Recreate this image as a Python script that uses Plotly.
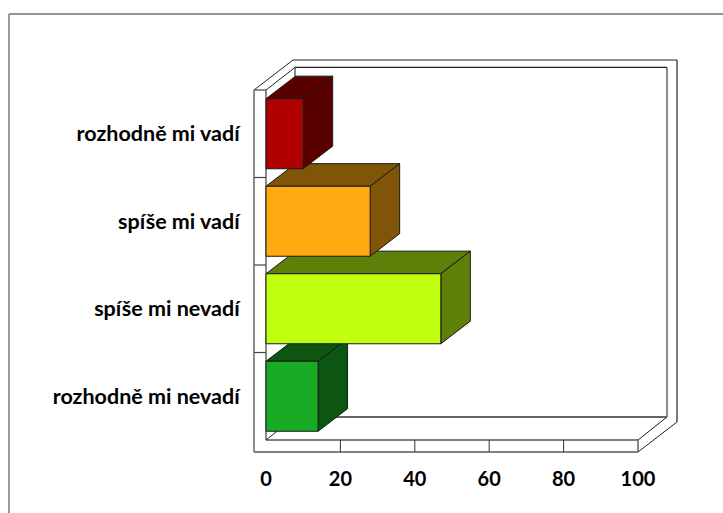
import plotly.graph_objects as go

categories = ["rozhodně mi nevadí", "spíše mi nevadí", "spíše mi vadí", "rozhodně mi vadí"]
values = [14, 47, 28, 10]
front_colors = ["#18AC24", "#BFFF0F", "#FFAA11", "#B00000"]
shade_colors = ["#0C5612", "#5F8008", "#805508", "#580000"]
tick_values = [0, 20, 40, 60, 80, 100]

W, H = 723, 513
PX_X = 3.72       # pixels per value unit
PX_Y = 87.5       # pixels per category
X0 = 266          # pixel of value 0
Y0 = 396.25       # pixel of first category
L, R, T, B = 254, 677, 60, 452
DX = 29.5 / PX_X  # bar depth in value units
DY = 22.6 / PX_Y  # bar depth in category units
BAR = 0.8
xr = [(L - X0) / PX_X, (R - X0) / PX_X]
yr = [(Y0 - B) / PX_Y, (Y0 - T) / PX_Y]
dom_x = [L / W, R / W]
dom_y = [1 - B / H, 1 - T / H]

fig = go.Figure()
EDGE = "#1a1a1a"
for i, (v, c) in enumerate(zip(values, shade_colors)):
    lo, hi = i - BAR / 2, i + BAR / 2
    # top face
    fig.add_trace(go.Scatter(x=[0, v, v + DX, DX, 0], y=[hi, hi, hi + DY, hi + DY, hi],
                             mode="lines", fill="toself", fillcolor=c,
                             line=dict(color=EDGE, width=1), hoverinfo="skip", showlegend=False))
    # side face
    fig.add_trace(go.Scatter(x=[v, v + DX, v + DX, v, v], y=[lo, lo + DY, hi + DY, hi, lo],
                             mode="lines", fill="toself", fillcolor=c,
                             line=dict(color=EDGE, width=1), hoverinfo="skip", showlegend=False))

fig.add_trace(go.Bar(x=values, y=categories, orientation="h", width=BAR,
                     marker=dict(color=front_colors, line=dict(color=EDGE, width=1)),
                     xaxis="x2", yaxis="y2", showlegend=False))


def seg(x0, y0, x1, y1, color="#7F7F7F", width=1.8):
    return dict(type="line", xref="paper", yref="paper", layer="below",
                x0=x0 / W, x1=x1 / W, y0=1 - y0 / H, y1=1 - y1 / H,
                line=dict(color=color, width=width))


shapes = [
    # chart border
    seg(9, 14, 723, 14, "#707070", 1.4), seg(9, 14, 9, 513, "#707070", 1.4),
    # left wall
    seg(254, 90, 254, 452), seg(266, 90, 266, 440), seg(254, 90, 266, 90),
    # floor
    seg(254, 452, 638, 452), seg(266, 440, 638, 440), seg(638, 440, 638, 452),
    # back wall
    seg(295, 417, 667, 417, "#666666"), seg(667, 67.4, 667, 417), seg(295, 67.4, 295, 77),
    seg(295, 67.4, 667, 67.4, "#222222", 1.2),
    seg(293, 60, 677, 60, "#222222", 1.2), seg(677, 60, 677, 422, "#222222", 1.2),
    # diagonals
    seg(254, 90, 293, 60, "#222222", 1), seg(266, 90, 295, 67.4, "#222222", 1),
    seg(266, 440, 295, 417, "#222222", 1), seg(638, 440, 667, 417, "#222222", 1),
    seg(638, 452, 677, 422, "#222222", 1),
]
for t in tick_values[1:-1]:
    px = X0 + t * PX_X
    shapes.append(seg(px, 440, px, 452, "#333333", 1))
for k in range(1, 4):
    py = Y0 + PX_Y / 2 - k * PX_Y
    shapes.append(seg(254, py, 266, py, "#444444", 1.2))

xfont = dict(family="Lato", size=20, color="#000000", weight=700)
yfont = dict(family="Lato", size=21.5, color="#000000", weight=700)
fig.update_layout(
    width=W, height=H, margin=dict(l=0, r=0, t=0, b=0),
    paper_bgcolor="white", plot_bgcolor="white", shapes=shapes, showlegend=False,
    bargap=0.2,
    xaxis=dict(domain=dom_x, range=xr, tickvals=tick_values, showgrid=False, zeroline=False,
               showline=False, ticks="outside", ticklen=9, tickcolor="rgba(0,0,0,0)",
               tickfont=xfont, anchor="y", fixedrange=True),
    yaxis=dict(domain=dom_y, range=yr, tickvals=list(range(len(categories))), ticktext=categories,
               showgrid=False, zeroline=False, showline=False, ticks="outside", ticklen=9,
               tickcolor="rgba(0,0,0,0)", tickfont=yfont, anchor="x", fixedrange=True),
    xaxis2=dict(domain=dom_x, range=xr, overlaying="x", anchor="y2", visible=False, fixedrange=True),
    yaxis2=dict(domain=dom_y, range=yr, overlaying="y", anchor="x2", visible=False, type="category",
                categoryorder="array", categoryarray=categories, fixedrange=True),
)

fig.write_html("out.html", config={"displayModeBar": False},
               post_script="document.body.style.margin='0';document.body.style.overflow='hidden';")
